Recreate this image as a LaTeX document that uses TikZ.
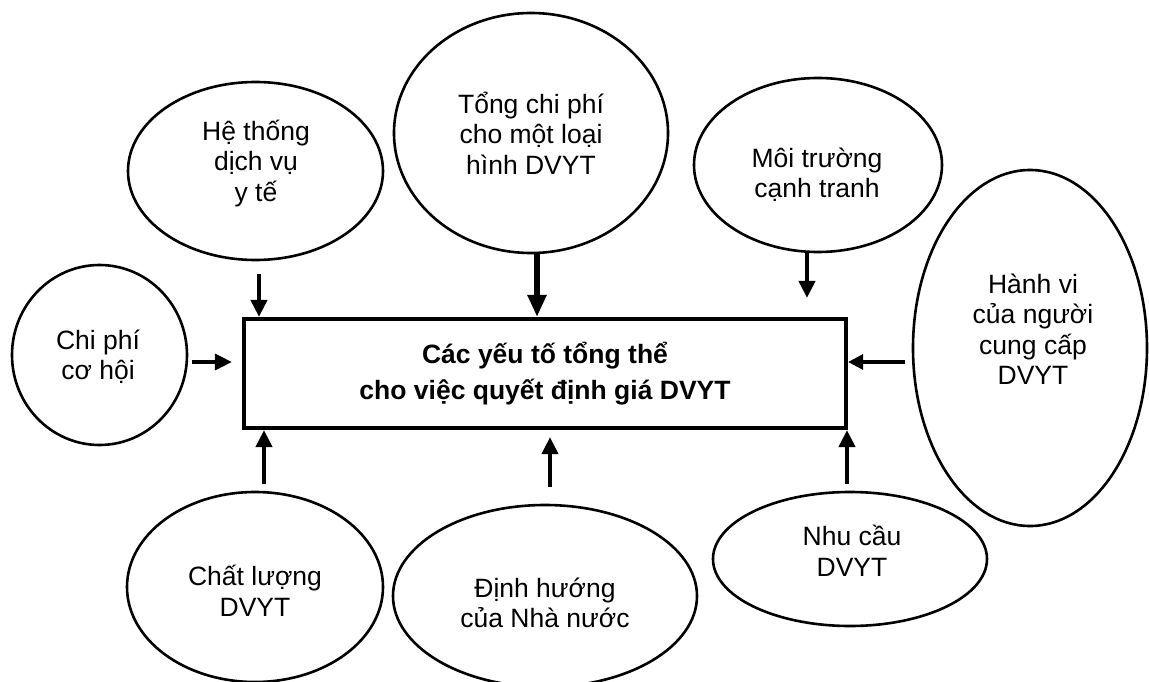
\documentclass[tikz,border=0pt]{standalone}
\usepackage{fontspec}
\setmainfont{Liberation Sans}
\usetikzlibrary{arrows.meta,shapes.geometric}
\begin{document}
\begin{tikzpicture}[x=1pt,y=-1pt,
  factor/.style={draw,ellipse,line width=2.6pt,inner sep=0pt},
  caption/.style={align=center,inner sep=0pt,font=\fontsize{26.5}{30.5}\selectfont},
  mainbox/.style={draw,line width=4.2pt,minimum width=602pt,minimum height=109pt,
    align=center,font=\fontsize{26.5}{36}\selectfont\bfseries},
  arr/.style={line width=4pt,-{Triangle[width=16pt,length=17pt]}},
]
\clip (0,0) rectangle (1149,682);

% central box
\node[mainbox] (box) at (545,373.5) {Các yếu tố tổng thể\\cho việc quyết định giá DVYT};

% surrounding factors
\node[factor,minimum width=255pt,minimum height=178pt] (he) at (255.5,171) {};
\node[caption] (heT) at (256,163.5) {Hệ thống\\dịch vụ\\y tế};

\node[factor,minimum width=274pt,minimum height=240pt] (tc) at (531,133) {};
\node[caption] (tcT) at (531,133) {Tổng chi phí\\cho một loại\\hình DVYT};

\node[factor,minimum width=248pt,minimum height=174pt] (mt) at (818,165) {};
\node[caption] (mtT) at (817,175) {Môi trường\\cạnh tranh};

\node[factor,minimum width=234pt,minimum height=356pt] (hv) at (1030,348) {};
\node[caption] (hvT) at (1033,329) {Hành vi\\của người\\cung cấp\\DVYT};

\node[factor,minimum width=175pt,minimum height=180pt] (cp) at (99.5,355) {};
\node[caption] (cpT) at (98,357) {Chi phí\\cơ hội};

\node[factor,minimum width=256pt,minimum height=190pt] (cl) at (255,587) {};
\node[caption] (clT) at (255,591) {Chất lượng\\DVYT};

\node[factor,minimum width=304pt,minimum height=182pt] (dh) at (545,596) {};
\node[caption] (dhT) at (545,603) {Định hướng\\của Nhà nước};

\node[factor,minimum width=274pt,minimum height=134pt] (nc) at (850,559) {};
\node[caption] (ncT) at (852,551) {Nhu cầu\\DVYT};

% influences on the central box
\draw[arr] ([shift={(3.5,13)}]he.south) coordinate (heA) -- (heA |- box.north);
\draw[arr,line width=6pt,-{Triangle[width=18pt,length=22pt]}]
  ([shift={(6,0)}]tc.south) coordinate (tcA) -- (tcA |- box.north);
\draw[arr,shorten >=19pt] ([shift={(-11,0)}]mt.south) coordinate (mtA) -- (mtA |- box.north);
\draw[arr,line width=3.5pt,shorten >=10pt] ([shift={(4,7)}]cp.east) coordinate (cpA) -- (cpA -| box.west);
\draw[arr,line width=3.2pt,-{Triangle[width=15pt,length=15pt]}]
  ([shift={(-7,14)}]hv.west) coordinate (hvA) -- (hvA -| box.east);
\draw[arr] ([shift={(9,-7)}]cl.north) coordinate (clA) -- (clA |- box.south);
\draw[arr,shorten >=7pt] ([shift={(5,-17)}]dh.north) coordinate (dhA) -- (dhA |- box.south);
\draw[arr] ([shift={(-3,-7)}]nc.north) coordinate (ncA) -- (ncA |- box.south);
\end{tikzpicture}
\end{document}
